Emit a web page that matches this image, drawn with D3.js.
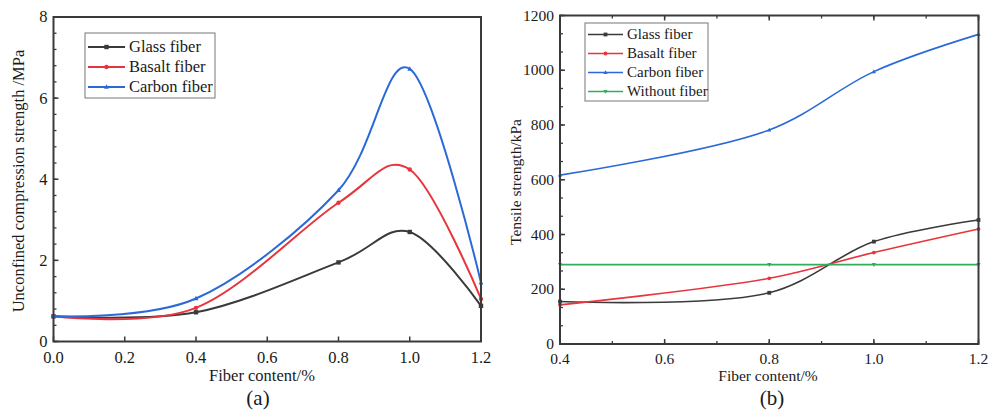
<!DOCTYPE html>
<html>
<head>
<meta charset="utf-8">
<script src="https://cdn.jsdelivr.net/npm/d3@7/dist/d3.min.js"></script>
<style>
  html, body { margin: 0; padding: 0; background: #fff; }
  svg { display: block; }
  text { font-family: "Liberation Serif", "Times New Roman", serif; fill: #1a1a1a; }
</style>
</head>
<body>
<svg id="chart" width="1002" height="412"></svg>
<script>
// ---- Panel (a): unconfined compression strength ----
const contentA = [0.0, 0.4, 0.8, 1.0, 1.2];
const glassA   = [0.62, 0.72, 1.95, 2.70, 0.88];
const basaltA  = [0.62, 0.83, 3.42, 4.24, 1.05];
const carbonA  = [0.62, 1.06, 3.73, 6.72, 1.45];
const xTicksA  = [0.0, 0.2, 0.4, 0.6, 0.8, 1.0, 1.2];
const yTicksA  = [0, 2, 4, 6, 8];

// ---- Panel (b): tensile strength ----
const contentB = [0.4, 0.8, 1.0, 1.2];
const glassB   = [155, 187, 374, 453];
const basaltB  = [143, 240, 334, 420];
const carbonB  = [617, 782, 995, 1131];
const plainB   = [290, 290, 290, 290];
const xTicksB  = [0.4, 0.6, 0.8, 1.0, 1.2];
const yTicksB  = [0, 200, 400, 600, 800, 1000, 1200];

const COLORS = { glass: "#3a3a3a", basalt: "#e8343c", carbon: "#2a6ad8", plain: "#2fae5c" };
const FRAME = "#3a3a3a";

const svg = d3.select("#chart");

function marker(g, shape, cx, cy, color, r) {
  if (shape === "square") {
    g.append("rect").attr("x", cx - r).attr("y", cy - r).attr("width", 2 * r).attr("height", 2 * r).attr("fill", color);
  } else if (shape === "circle") {
    g.append("circle").attr("cx", cx).attr("cy", cy).attr("r", r).attr("fill", color);
  } else {
    const s = shape === "up" ? 1 : -1;
    g.append("path").attr("d", `M${cx},${cy - s * r * 1.2}L${cx + r * 1.1},${cy + s * r * 0.8}L${cx - r * 1.1},${cy + s * r * 0.8}Z`).attr("fill", color);
  }
}

function drawPanel(cfg) {
  const g = svg.append("g");
  const x = d3.scaleLinear().domain(cfg.xDomain).range([cfg.left, cfg.right]);
  const y = d3.scaleLinear().domain(cfg.yDomain).range([cfg.bottom, cfg.top]);

  // minor ticks (inward)
  const minorY = d3.range(cfg.yDomain[0], cfg.yDomain[1] + 1e-9, cfg.yMinor);
  g.selectAll(null).data(minorY).join("line")
    .attr("x1", cfg.left).attr("x2", cfg.left + 3)
    .attr("y1", d => y(d)).attr("y2", d => y(d))
    .attr("stroke", FRAME).attr("stroke-width", 1.3);
  g.selectAll(null).data(cfg.yTicks).join("line")
    .attr("x1", cfg.left).attr("x2", cfg.left + 5)
    .attr("y1", d => y(d)).attr("y2", d => y(d))
    .attr("stroke", FRAME).attr("stroke-width", 1.5);
  const edges = cfg.topTicks ? [cfg.bottom, cfg.top] : [cfg.bottom];
  if (cfg.xMinor) {
    const minorX = d3.range(cfg.xDomain[0], cfg.xDomain[1] + 1e-9, cfg.xMinor);
    edges.forEach(e => {
      const dir = e === cfg.bottom ? -1 : 1;
      g.selectAll(null).data(minorX).join("line")
        .attr("x1", d => x(d)).attr("x2", d => x(d))
        .attr("y1", e).attr("y2", e + dir * 3)
        .attr("stroke", FRAME).attr("stroke-width", 1.3);
    });
  }
  edges.forEach(e => {
    const dir = e === cfg.bottom ? -1 : 1;
    g.selectAll(null).data(cfg.xTicks).join("line")
      .attr("x1", d => x(d)).attr("x2", d => x(d))
      .attr("y1", e).attr("y2", e + dir * 5)
      .attr("stroke", FRAME).attr("stroke-width", 1.5);
  });

  // tick labels
  g.selectAll(null).data(cfg.xTicks).join("text")
    .attr("x", d => x(d)).attr("y", cfg.bottom + cfg.xLabelDy)
    .attr("text-anchor", "middle").attr("font-size", cfg.tickSize)
    .text(d => d.toFixed(1));
  g.selectAll(null).data(cfg.yTicks).join("text")
    .attr("x", cfg.left - 6).attr("y", d => y(d) + cfg.tickSize * 0.33)
    .attr("text-anchor", "end").attr("font-size", cfg.tickSize)
    .text(d => d);

  // series: smooth curves through the measured points
  const line = d3.line().x(d => x(d[0])).y(d => y(d[1]))
    .curve(d3.curveCatmullRom.alpha(cfg.curveAlpha));
  cfg.series.forEach(s => {
    const pts = cfg.xs.map((v, i) => [v, s.values[i]]);
    g.append("path").attr("d", line(pts)).attr("fill", "none")
      .attr("stroke", s.color).attr("stroke-width", cfg.lineWidth);
    pts.forEach(p => marker(g, s.shape, x(p[0]), y(p[1]), s.color, cfg.markerR));
  });

  // frame
  g.append("rect").attr("x", cfg.left).attr("y", cfg.top)
    .attr("width", cfg.right - cfg.left).attr("height", cfg.bottom - cfg.top)
    .attr("fill", "none").attr("stroke", FRAME).attr("stroke-width", 2);

  // axis titles and caption
  g.append("text").attr("x", cfg.xTitleX).attr("y", cfg.bottom + cfg.xTitleDy)
    .attr("text-anchor", "middle").attr("font-size", cfg.titleSize).text("Fiber content/%");
  g.append("text").attr("transform", `translate(${cfg.yTitleX},${cfg.yTitleY}) rotate(-90)`)
    .attr("text-anchor", "middle").attr("font-size", cfg.titleSize).text(cfg.yTitle);
  g.append("text").attr("x", cfg.capX).attr("y", 405)
    .attr("text-anchor", "middle").attr("font-size", 21).text(cfg.caption);

  // legend
  const L = cfg.legend;
  g.append("rect").attr("x", L.x).attr("y", L.y).attr("width", L.w).attr("height", L.h)
    .attr("fill", "#fff").attr("stroke", "#777").attr("stroke-width", 1);
  cfg.series.forEach((s, i) => {
    const cy = L.y + L.first + i * L.step;
    g.append("line").attr("x1", L.x + 3).attr("x2", L.x + 3 + L.len)
      .attr("y1", cy).attr("y2", cy).attr("stroke", s.color).attr("stroke-width", cfg.lineWidth);
    marker(g, s.shape, L.x + 3 + L.len / 2, cy, s.color, cfg.markerR);
    g.append("text").attr("x", L.x + L.len + 7).attr("y", cy + L.font * 0.33)
      .attr("font-size", L.font).text(s.name);
  });
}

drawPanel({
  xDomain: [0, 1.2], yDomain: [0, 8],
  left: 53.5, right: 481, top: 17, bottom: 341.5,
  xTicks: xTicksA, yTicks: yTicksA, yMinor: 0.4, xMinor: null, topTicks: false,
  tickSize: 16.5, xLabelDy: 21.5, titleSize: 16.5, curveAlpha: 0,
  xs: contentA, lineWidth: 2, markerR: 2.2,
  series: [
    { name: "Glass fiber",  values: glassA,  color: COLORS.glass,  shape: "square" },
    { name: "Basalt fiber", values: basaltA, color: COLORS.basalt, shape: "circle" },
    { name: "Carbon fiber", values: carbonA, color: COLORS.carbon, shape: "up" }
  ],
  xTitleX: 262, xTitleDy: 39.5, yTitleX: 24, yTitleY: 181,
  yTitle: "Unconfined compression strength /MPa",
  capX: 258, caption: "(a)",
  legend: { x: 85, y: 33, w: 130, h: 65, first: 14, step: 20, len: 37, font: 16.5 }
});

drawPanel({
  xDomain: [0.4, 1.2], yDomain: [0, 1200],
  left: 560, right: 978.5, top: 15.5, bottom: 344,
  xTicks: xTicksB, yTicks: yTicksB, yMinor: 200 / 3, xMinor: 0.1, topTicks: true,
  tickSize: 15.5, xLabelDy: 19.5, titleSize: 15.5, curveAlpha: 0.5,
  xs: contentB, lineWidth: 1.6, markerR: 1.9,
  series: [
    { name: "Glass fiber",   values: glassB,  color: COLORS.glass,  shape: "square" },
    { name: "Basalt fiber",  values: basaltB, color: COLORS.basalt, shape: "circle" },
    { name: "Carbon fiber",  values: carbonB, color: COLORS.carbon, shape: "up" },
    { name: "Without fiber", values: plainB,  color: COLORS.plain,  shape: "down" }
  ],
  xTitleX: 768, xTitleDy: 37, yTitleX: 521, yTitleY: 182,
  yTitle: "Tensile strength/kPa",
  capX: 772, caption: "(b)",
  legend: { x: 585, y: 23, w: 123, h: 78, first: 11.5, step: 19, len: 35, font: 15 }
});
</script>
</body>
</html>
